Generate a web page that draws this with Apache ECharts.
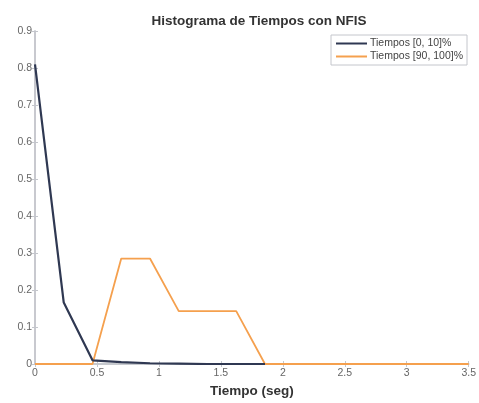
<!DOCTYPE html>
<html>
<head>
<meta charset="utf-8">
<script src="https://cdn.jsdelivr.net/npm/echarts@6/dist/echarts.min.js"></script>
<style>
  html, body { margin: 0; padding: 0; background: #fff; }
  #main { width: 479px; height: 403px; }
</style>
</head>
<body>
<div id="main"></div>
<script>
// valores
var tiempos = [0, 0.232, 0.464, 0.696, 0.928, 1.16, 1.392, 1.624, 1.856];
var tiemposLargo = [0, 0.232, 0.464, 0.696, 0.928, 1.16, 1.392, 1.624, 1.856, 2.088, 2.32, 2.552, 2.784, 3.016, 3.248, 3.5];
var frecBajo = [0.81, 0.166, 0.01, 0.005, 0.002, 0.001, 0, 0, 0];
var frecAlto = [0, 0, 0, 0.285, 0.285, 0.143, 0.143, 0.143, 0, 0, 0, 0, 0, 0, 0, 0];
var xTicks = [0, 0.5, 1, 1.5, 2, 2.5, 3, 3.5];
var yTicks = [0, 0.1, 0.2, 0.3, 0.4, 0.5, 0.6, 0.7, 0.8, 0.9];

var myChart = echarts.init(document.getElementById("main"));

function pares(xs, ys) {
  var out = [];
  for (var i = 0; i < ys.length; i++) {
    out.push([xs[i], ys[i]]);
  }
  return out;
}

var fuente = "Liberation Sans";
var gris = "#c4c6cc";

var option = {
  animation: false,
  title: {
    text: "Histograma de Tiempos con NFIS",
    left: 254,
    top: 9,
    textAlign: "center",
    textStyle: { fontFamily: fuente, fontSize: 13.5, fontWeight: "bold", color: "#333" },
  },
  legend: {
    right: 12,
    top: 35,
    orient: "vertical",
    itemWidth: 31,
    itemHeight: 2,
    itemGap: 2,
    padding: [3, 4, 3, 5],
    borderColor: gris,
    borderWidth: 1,
    backgroundColor: "#fff",
    icon: "rect",
    textStyle: { fontFamily: fuente, fontSize: 10.5, color: "#444", padding: [0, 0, 0, -2] },
    data: ["Tiempos [0, 10]%", "Tiempos [90, 100]%"],
  },
  grid: { left: 35, right: 7, top: 31, bottom: 32 },
  xAxis: [
    {
      type: "value",
      min: 0,
      max: 3.5,
      interval: 0.5,
      name: "Tiempo (seg)",
      nameLocation: "middle",
      nameGap: 20,
      nameTextStyle: { fontFamily: fuente, fontSize: 13.5, fontWeight: "bold", color: "#333" },
      axisLine: { lineStyle: { color: gris, width: 1.5 } },
      axisTick: { inside: true, length: 3, lineStyle: { color: gris } },
      axisLabel: {
        fontFamily: fuente, fontSize: 10.5, color: "#666", margin: 4,
        formatter: function (v) { return xTicks.indexOf(v) >= 0 ? String(v) : ""; },
      },
      splitLine: { show: false },
    },
    {
      type: "value",
      position: "top",
      min: 0,
      max: 3.5,
      interval: 0.5,
      axisLine: { lineStyle: { color: gris, width: 1.5 } },
      axisTick: { inside: true, length: 3, lineStyle: { color: gris } },
      axisLabel: { show: false },
      splitLine: { show: false },
    },
  ],
  yAxis: [
    {
      type: "value",
      min: 0,
      max: 0.9,
      interval: 0.1,
      axisLine: { show: true, lineStyle: { color: gris, width: 1.5 } },
      axisTick: { show: true, inside: true, length: 3, lineStyle: { color: gris } },
      axisLabel: {
        fontFamily: fuente, fontSize: 10.5, color: "#666", margin: 3,
        formatter: function (v) {
          var r = Math.round(v * 10) / 10;
          return yTicks.indexOf(r) >= 0 ? String(r) : "";
        },
      },
      splitLine: { show: false },
    },
    {
      type: "value",
      position: "right",
      min: 0,
      max: 0.9,
      interval: 0.1,
      axisLine: { show: true, lineStyle: { color: gris, width: 1.5 } },
      axisTick: { show: true, inside: true, length: 3, lineStyle: { color: gris } },
      axisLabel: { show: false },
      splitLine: { show: false },
    },
  ],
  series: [
    {
      name: "Tiempos [90, 100]%",
      type: "line",
      data: pares(tiemposLargo, frecAlto),
      showSymbol: false,
      color: "#f5a04e",
      lineStyle: { width: 1.8, color: "#f5a04e" },
      z: 2,
    },
    {
      name: "Tiempos [0, 10]%",
      type: "line",
      data: pares(tiempos, frecBajo),
      showSymbol: false,
      color: "#2f3852",
      lineStyle: { width: 2.2, color: "#2f3852" },
      z: 3,
    },
  ],
};

myChart.setOption(option);
</script>
</body>
</html>
